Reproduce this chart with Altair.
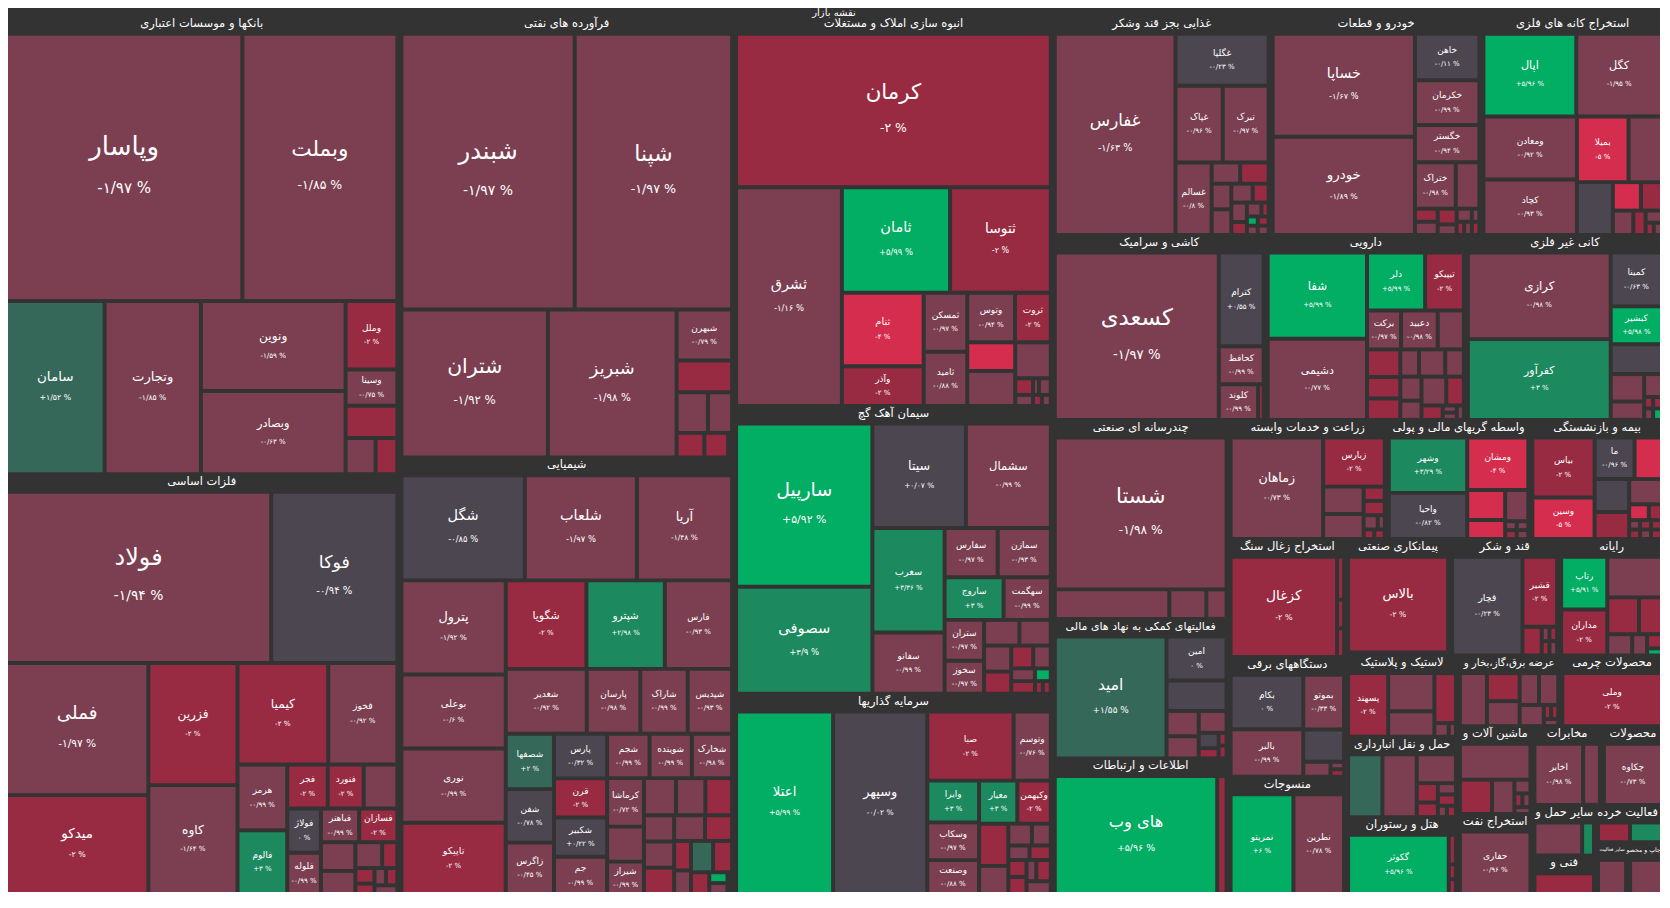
import math
import altair as alt
import pandas as pd

# ---------------- data ----------------
# each tile: (symbol, shown change %, closing-change estimate (colour), market value)
BANKS = [("وپاسار", -1.97, -1.2, 640), ("وبملت", -1.85, -1.1, 420), ("سامان", 1.52, 1.5, 173),
         ("وتجارت", -1.85, -1.2, 169), ("ونوین", -1.59, -1.0, 132), ("وبصادر", -0.63, -0.9, 122),
         ("وملل", -2, -2, 36), ("وسینا", -0.75, -0.8, 19), ("", None, -2, 17), ("", None, -1, 11),
         ("", None, -2, 8)]
METALS = [("فولاد", -1.94, -1.0, 458), ("فوکا", -0.94, 0, 218), ("فملی", -1.97, -1.2, 190),
          ("میدکو", -2, -2, 142), ("فزرین", -2, -2, 110), ("کاوه", -1.64, -1.0, 98),
          ("کیمیا", -2, -2, 93), ("فخوز", -0.92, -1.0, 71), ("هرمز", -0.99, -1.0, 33),
          ("فالوم", 3, 3, 32), ("فجر", -2, -2, 18), ("فنورد", -2, -2, 16), ("", None, -1, 15),
          ("فولاژ", 0, 0, 15), ("فلوله", -0.99, -1, 14), ("فباهنر", -0.99, -1, 13),
          ("فسازان", -2, -2, 13), ("", None, -1, 10), ("", None, -1, 8), ("", None, -1, 7),
          ("", None, -2, 4), ("", None, -2, 3), ("", None, -2, 2), ("", None, -1, 2),
          ("", None, -2, 2), ("", None, -1, 2)]
OIL = [("شبندر", -1.97, -1.2, 489), ("شپنا", -1.97, -1.2, 444), ("شتران", -1.92, -1.2, 222),
       ("شبریز", -1.98, -1.2, 195), ("شبهرن", -0.79, -1, 29), ("", None, -2, 18),
       ("", None, -1, 13), ("", None, -1, 10), ("", None, -2, 7), ("", None, -2, 6),
       ("", None, -4.5, 1)]
CHEM = [("شگل", -0.85, 0, 131), ("شلعاب", -1.97, -1.2, 119), ("آریا", -1.48, -1.0, 101),
        ("پترول", -1.92, -1.2, 99), ("بوعلی", -0.6, -1, 78), ("نوری", -0.99, -1, 78),
        ("تاپیکو", -2, -2, 75), ("شگویا", -2, -2, 72), ("شپترو", 2.98, 3, 70),
        ("فارس", -0.93, -1, 60), ("شغدیر", -0.92, -1, 53), ("پارسان", -0.98, -1, 35),
        ("شاراک", -0.99, -1, 31), ("شپدیس", -0.93, -1, 29), ("شصفها", 2, 1.5, 27),
        ("شفن", -0.78, 0, 26), ("زاگرس", -0.45, -1, 25), ("پارس", -0.32, 0, 24),
        ("قرن", -2, -2, 21), ("شکبیر", 0.22, 0, 21), ("جم", -0.99, -1, 20),
        ("شجم", -0.99, -1, 19), ("شوینده", -0.99, -1, 19), ("شخارک", -0.98, -1, 18),
        ("کرماشا", -0.72, -1, 18), ("", None, -1, 13), ("شیراز", -0.99, -1, 12),
        ("", None, -1, 12), ("", None, -1, 11), ("", None, -2, 10), ("", None, -1, 8),
        ("", None, -1, 8), ("", None, -2, 8), ("", None, -1, 8), ("", None, -2, 7),
        ("", None, -2, 5), ("", None, -1, 4), ("", None, 1.5, 7), ("", None, -2, 6),
        ("", None, -2, 4), ("", None, 6, 2), ("", None, -1, 2), ("", None, -2, 1)]
ANBOOH = [("کرمان", -2, -2, 490), ("ثشرق", -1.16, -1, 235), ("ثامان", 5.99, 6, 116),
          ("ثتوسا", -2, -2, 108), ("ثنام", -4, -4.5, 61), ("وآذر", -2, -2, 33),
          ("ثمسکن", -0.97, -1, 26), ("ثامید", -0.88, -1, 24), ("وتوس", -0.94, -1, 24),
          ("ثروت", -2, -2, 18), ("", None, -4.5, 14), ("", None, -1, 17), ("", None, -1, 13),
          ("", None, -2, 3), ("", None, -1, 2), ("", None, -1, 1), ("", None, -1, 2),
          ("", None, -2, 1), ("", None, -1, 1)]
SIMAN = [("سارپیل", 5.92, 6, 221), ("سصوفی", 3.9, 3, 145), ("سیتا", 0.07, 0, 97),
         ("سشمال", -0.99, -1, 88), ("سغرب", 3.36, 3, 75), ("سفانو", -0.99, -1, 44),
         ("سفارس", -0.97, -1, 26), ("سمازن", -0.93, -1, 26), ("ساروج", 3, 3, 25),
         ("سهگمت", -0.99, -1, 20), ("ستران", -0.97, -1, 16), ("سخوز", -0.97, -1, 13),
         ("", None, -1, 9), ("", None, -1, 8), ("", None, -1, 7), ("", None, -2, 6),
         ("", None, -2, 5), ("", None, -1, 4), ("", None, -1, 3), ("", None, -2, 3),
         ("", None, 6, 2), ("", None, -2, 1), ("", None, -2, 1)]
SARMAYE = [("اعتلا", 5.99, 6, 172), ("وسپهر", -0.02, 0, 167), ("صبا", -2, -2, 58),
           ("وتوسم", -0.76, -1, 25), ("وایرا", 3, 3, 21), ("وسکاب", -0.97, -1, 19),
           ("وصنعت", -0.88, -1, 17), ("معیار", 3, 3, 16), ("وکبهمن", -2, -2, 14),
           ("", None, -2, 12), ("", None, -1, 8), ("", None, -1, 5), ("", None, -1, 4),
           ("", None, -1, 3), ("", None, -2, 3), ("", None, -2, 3), ("", None, -2, 3),
           ("", None, -1, 2), ("", None, -2, 3), ("", None, -1, 3)]
GHAZA = [("غفارس", -1.63, -1, 241), ("غگلپا", -0.23, 0, 48), ("غپاک", -0.96, -1, 36),
         ("تبرک", -0.97, -1, 35), ("غسالم", -0.8, -1, 26), ("", None, -1, 6), ("", None, -2, 6),
         ("", None, -1, 5), ("", None, -1, 5), ("", None, -1, 4), ("", None, -2, 3),
         ("", None, -1, 3), ("", None, -2, 2), ("", None, -1, 2), ("", None, -2, 1),
         ("", None, 6, 1), ("", None, -1, 1), ("", None, -2, 1), ("", None, -1, 1)]
KHODRO = [("خساپا", -1.67, -1, 147), ("خودرو", -1.89, -1, 140), ("خاهن", -0.11, 0, 30),
          ("خکرمان", -0.99, -1, 29), ("خگستر", -0.94, -1, 24), ("ختراک", -0.98, -1, 19),
          ("", None, -1, 11), ("", None, -2, 3), ("", None, -1, 3), ("", None, -2, 3),
          ("", None, -1, 2), ("", None, -1, 2), ("", None, -1, 1), ("", None, -2, 1),
          ("", None, -1, 1), ("", None, -2, 1)]
KANE = [("اپال", 5.96, 6, 77), ("کگل", -1.95, -1, 71), ("ومعادن", -0.92, -1, 59),
        ("کچاد", -0.93, -1, 52), ("بمیلا", -5, -4.5, 34), ("", None, -1, 22), ("", None, 0, 19),
        ("", None, -4.5, 8), ("", None, -2, 6), ("", None, -1, 5), ("", None, -2, 3),
        ("", None, -1, 2), ("", None, -2, 1), ("", None, -1, 1)]
KASHI = [("کسعدی", -1.97, -1.2, 274), ("کترام", 0.55, 0, 42), ("کحافظ", -0.99, -1, 17),
         ("کلوند", -0.99, -1, 14), ("", None, -2, 2)]
DARU = [("شفا", 5.99, 6, 84), ("دشیمی", -0.77, -1, 79), ("دلر", 5.99, 6, 33),
        ("تیپیکو", -2, -2, 22), ("برکت", -0.97, -1, 13), ("دعبید", -0.98, -1, 14),
        ("", None, -1, 10), ("", None, -2, 9), ("", None, -2, 7), ("", None, -2, 7),
        ("", None, -1, 5), ("", None, -1, 7), ("", None, -1, 5), ("", None, -1, 5),
        ("", None, -1, 4), ("", None, -1, 7), ("", None, -2, 5), ("", None, -2, 3),
        ("", None, -1, 1), ("", None, -1, 1), ("", None, -1, 1)]
KANI = [("کرازی", -0.98, -1, 121), ("کفرآور", 3, 3, 113), ("کمینا", -0.63, 0, 27),
        ("کبشیر", 5.98, 6, 19), ("", None, 0, 15), ("", None, -1, 9), ("", None, -1, 6),
        ("", None, -1, 4), ("", None, -2, 1), ("", None, -2, 1), ("", None, -1, 1),
        ("", None, 6, 1)]
CHANDRESANE = [("شستا", -1.98, -1.2, 263), ("", None, -1, 34), ("", None, -1, 11),
               ("", None, -1, 6)]
KOMAKI = [("امید", 1.55, 1.5, 134), ("امین", 0, 0, 26), ("", None, 0, 18), ("", None, -1, 8),
          ("", None, -1, 7), ("", None, -1, 6), ("", None, 0, 3), ("", None, -2, 2),
          ("", None, -2, 1), ("", None, -2, 1)]
ETTELAAT = [("های وب", 5.96, 6, 191), ("", None, -2, 11)]
ZERAAT = [("زماهان", -0.73, -1, 93), ("زبارس", -2, -2, 30), ("", None, -1, 11),
          ("", None, -1, 10), ("", None, -2, 3), ("", None, -2, 3), ("", None, -1, 2),
          ("", None, -1, 1), ("", None, -2, 1), ("", None, -2, 1)]
VASETE = [("وشهر", 3.29, 3, 42), ("واحیا", -0.82, 0, 35), ("ومشان", -4, -4.5, 31),
          ("", None, -4.5, 11), ("", None, -4.5, 7), ("", None, -1, 7), ("", None, -1, 1),
          ("", None, -2, 1), ("", None, -1, 1), ("", None, -1, 1)]
BIME = [("بیاس", -2, -2, 36), ("وسین", -5, -4.5, 25), ("ما", -0.96, 0, 16),
        ("", None, -4.5, 11), ("", None, 0, 11), ("", None, -2, 9), ("", None, -1, 8),
        ("", None, -4.5, 3), ("", None, -2, 2), ("", None, -1, 1), ("", None, -2, 1),
        ("", None, -2, 1), ("", None, -1, 1), ("", None, -2, 1), ("", None, -2, 1)]
ZOGHAL = [("کزغال", -2, -2, 106), ("", None, -2, 3), ("", None, -2, 2), ("", None, -2, 2)]
DASTGAH = [("بکام", 0, 0, 39), ("بالبر", -0.99, -1, 34), ("بموتو", -0.33, -1, 22),
           ("", None, 0, 13), ("", None, -1, 4), ("", None, -1, 1), ("", None, -2, 1)]
MANSOOJAT = [("نمریتو", 6, 6, 62), ("نطرین", -0.78, -1, 50)]
PEYMANKARI = [("بالاس", -2, -2, 97), ("", None, -1, 3)]
GHAND = [("قچار", -0.23, 0, 63), ("قشیر", -2, -2, 22), ("", None, -2, 5), ("", None, -1, 1),
         ("", None, -2, 1), ("", None, -2, 1), ("", None, -1, 1)]
RAYANE = [("رتاپ", 5.91, 6, 23), ("مداران", -2, -2, 20), ("", None, -1, 21),
          ("", None, -2, 11), ("", None, -2, 8), ("", None, -1, 5), ("", None, -1, 3),
          ("", None, -2, 2), ("", None, 6, 1)]
LASTIK = [("پسهند", -2, -2, 26), ("", None, -1, 18), ("", None, -1, 12), ("", None, -2, 11),
          ("", None, -1, 2), ("", None, -1, 1)]
HAML = [("", None, 1.5, 21), ("", None, -1, 21), ("", None, -1, 11), ("", None, -2, 4),
        ("", None, -2, 3), ("", None, -1, 2), ("", None, -2, 2), ("", None, -1, 1),
        ("", None, -2, 1)]
HOTEL = [("گکوثر", 5.96, 6, 56), ("", None, -2, 2), ("", None, -2, 1), ("", None, -2, 1)]
ARZE = [("", None, -1, 14), ("", None, -2, 9), ("", None, -1, 8), ("", None, -1, 6),
        ("", None, -1, 6), ("", None, -1, 5), ("", None, -2, 1), ("", None, -2, 1),
        ("", None, -1, 1)]
CHARMI = [("وملی", -2, -2, 52)]
MASHIN = [("", None, -1, 23), ("", None, -2, 10), ("", None, -1, 7), ("", None, -1, 2),
          ("", None, -2, 1), ("", None, -1, 1), ("", None, -1, 1)]
NAFT = [("حفاری", -0.96, -1, 41)]
MOKHABERAT = [("اخابر", -0.98, -1, 29), ("", None, -1, 10)]
MAHSULAT = [("چکاوه", -0.73, -1, 31)]
SAYER_HAML = [("", None, -1, 16), ("", None, 3, 4)]
FANI = [("", None, -2, 9)]
KHORDE = [("", None, -2, 5), ("", None, 3, 5)]
SAYER = [("", None, -1, 1)]
CHAP = [("", None, -1, 1)]

# sector: (name, sector market value, tiles)
SECTORS = [
    ("بانکها و موسسات اعتباری", 1854, BANKS),
    ("فلزات اساسی", 1699, METALS),
    ("فرآورده های نفتی", 1512, OIL),
    ("شیمیایی", 1495, CHEM),
    ("انبوه سازی املاک و مستغلات", 1272, ANBOOH),
    ("سیمان آهک گچ", 939, SIMAN),
    ("سرمایه گذاریها", 653, SARMAYE),
    ("غذایی بجز قند وشکر", 488, GHAZA),
    ("خودرو و قطعات", 472, KHODRO),
    ("استخراج کانه های فلزی", 409, KANE),
    ("کاشی و سرامیک", 403, KASHI),
    ("دارویی", 379, DARU),
    ("کانی غیر فلزی", 375, KANI),
    ("چندرسانه ای صنعتی", 358, CHANDRESANE),
    ("فعالیتهای کمکی به نهاد های مالی", 251, KOMAKI),
    ("اطلاعات و ارتباطات", 244, ETTELAAT),
    ("زراعت و خدمات وابسته", 193, ZERAAT),
    ("واسطه گریهای مالی و پولی", 175, VASETE),
    ("بیمه و بازنشستگی", 163, BIME),
    ("استخراج زغال سنگ", 142, ZOGHAL),
    ("دستگاههای برقی", 144, DASTGAH),
    ("منسوجات", 141, MANSOOJAT),
    ("پیمانکاری صنعتی", 124, PEYMANKARI),
    ("قند و شکر", 130, GHAND),
    ("رایانه", 125, RAYANE),
    ("لاستیک و پلاستیک", 93, LASTIK),
    ("حمل و نقل انبارداری", 92, HAML),
    ("هتل و رستوران", 88, HOTEL),
    ("عرضه برق،گاز،بخار و", 74, ARZE),
    ("محصولات چرمی", 75, CHARMI),
    ("ماشین آلات و", 67, MASHIN),
    ("استخراج نفت", 61, NAFT),
    ("مخابرات", 56, MOKHABERAT),
    ("محصولات", 50, MAHSULAT),
    ("سایر حمل و", 33, SAYER_HAML),
    ("فنی و", 25, FANI),
    ("فعالیت خرده", 26, KHORDE),
    ("سایر فعالیت", 17, SAYER),
    ("چاپ و محصو", 19, CHAP),
]
TITLE = "نقشه بازار"

# colour classes of the closing change
COLOR_BREAKS = [-3, -1.5, -0.5, 0.5, 2.25, 4.5]
COLOR_RANGE = ["#d52d4d", "#982b42", "#7b3f51", "#4c4651", "#356858", "#1c8a5e", "#02ad64"]

# ---------------- layout (squarified treemap in a 1659 x 887 layout space) ----------------
VX0, VY0, VX1, VY1 = 6.0, 18.0, 1665.0, 905.0     # layout space
W, H = 1652, 884                                  # plot size on the page
TOP = 14                                          # pixel row where the sectors begin
GAP_OUT, GAP_IN, HEADER = 8, 4, 14
KX = W / (VX1 - VX0)
KY = (H - TOP) / (VY1 - VY0)


def squarify(values, x0, y0, x1, y1):
    n = len(values)
    out = [None] * n
    total = float(sum(values))
    i0 = i1 = 0
    while i0 < n:
        dx, dy = max(x1 - x0, 1e-6), max(y1 - y0, 1e-6)
        s = values[i1]
        i1 += 1
        mn = mx = s
        alpha = max(dy / dx, dx / dy) / total
        beta = s * s * alpha
        best = max(mx / beta, beta / mn)
        while i1 < n:
            v = values[i1]
            s += v
            mn, mx = min(mn, v), max(mx, v)
            beta = s * s * alpha
            r = max(mx / beta, beta / mn)
            if r > best:
                s -= v
                break
            best = r
            i1 += 1
        if dx < dy:
            ny = y0 + dy * s / total
            xx = x0
            for i in range(i0, i1):
                w = (x1 - x0) * values[i] / s
                out[i] = (xx, y0, xx + w, ny)
                xx += w
            y0 = ny
        else:
            nx = x0 + dx * s / total
            yy = y0
            for i in range(i0, i1):
                h = (y1 - y0) * values[i] / s
                out[i] = (x0, yy, nx, yy + h)
                yy += h
            x0 = nx
        total -= s
        i0 = i1
    return out


FA = str.maketrans("0123456789", "۰۱۲۳۴۵۶۷۸۹")


def fmt(p):
    if p is None:
        return ""
    s = f"{abs(p):.2f}".rstrip("0").rstrip(".")
    sign = "-" if p < 0 else ("+" if p > 0 else "")
    return sign + s.replace(".", "/").translate(FA) + " %"


po, pi = GAP_OUT / 2, GAP_IN / 2
sec_rects = squarify([s[1] for s in SECTORS], VX0 - po, VY0 - po, VX1 + po, VY1 + po)
tiles, heads = [], []
for (sname, sval, items), (a, b, c, d) in zip(SECTORS, sec_rects):
    sx0, sy0, sx1, sy1 = a + po, b + po, c - po, d - po
    sw = (sx1 - sx0) * KX
    hfs = max(4.5, min(11.5, (sw + 3) / (0.5 * len(sname))))
    half = 0.25 * hfs * len(sname) / KX
    cx = min((sx0 + sx1) / 2, VX1 - half - 1)
    heads.append({"t": sname, "cx": cx, "cy": sy0 + 2, "hfs": hfs})
    rr = squarify([it[3] for it in items], sx0 - pi, sy0 + HEADER - pi, sx1 + pi, sy1 + pi)
    for (nm, pct, close, val), (e, f, g, h) in zip(items, rr):
        x0, y0, x1, y1 = e + pi, f + pi, g - pi, h - pi
        if x1 - x0 < 0.6 or y1 - y0 < 0.6:
            continue
        w, hh = (x1 - x0) * KX, (y1 - y0) * KY
        fs = min(min(w, hh) / 7.0, 26.0, (w - 4) / (0.5 * max(len(nm), 2)))
        fs = max(fs, 9.0)
        pfs = max(min(0.58 * fs, 17.0), 7.0)
        cx, cy = (x0 + x1) / 2, (y0 + y1) / 2
        off = 0.8 * fs / KY
        tiles.append({"name": nm, "pct": fmt(pct), "close": close,
                      "x0": x0, "x1": x1, "y0": y0, "y1": y1,
                      "cx": cx, "ny": cy - off, "py": cy + off,
                      "fs": fs, "pfs": pfs, "lab": bool(nm) and w >= 16 and hh >= 16})

df = pd.DataFrame(tiles)
lab = df[df["lab"]]
hd = pd.DataFrame(heads)

xs = alt.Scale(domain=[VX0, VX1], range=[0, W], nice=False, zero=False)
ys = alt.Scale(domain=[VY0, VY1], range=[TOP, H], nice=False, zero=False)
FONT = "DejaVu Sans"

rects = alt.Chart(df).mark_rect(strokeWidth=0).encode(
    x=alt.X("x0:Q", scale=xs, axis=None), x2="x1:Q",
    y=alt.Y("y0:Q", scale=ys, axis=None), y2="y1:Q",
    color=alt.Color("close:Q", scale=alt.Scale(type="threshold", domain=COLOR_BREAKS,
                                               range=COLOR_RANGE), legend=None),
)
names = alt.Chart(lab).mark_text(font=FONT, color="white", baseline="middle", align="center").encode(
    x=alt.X("cx:Q", scale=xs, axis=None), y=alt.Y("ny:Q", scale=ys, axis=None),
    text="name:N", size=alt.Size("fs:Q", scale=None),
)
pcts = alt.Chart(lab).mark_text(font=FONT, color="white", baseline="middle", align="center").encode(
    x=alt.X("cx:Q", scale=xs, axis=None), y=alt.Y("py:Q", scale=ys, axis=None),
    text="pct:N", size=alt.Size("pfs:Q", scale=None),
)
headers = alt.Chart(hd).mark_text(font=FONT, color="white", baseline="middle",
                                  align="center").encode(
    x=alt.X("cx:Q", scale=xs, axis=None), y=alt.Y("cy:Q", scale=ys, axis=None), text="t:N",
    size=alt.Size("hfs:Q", scale=None),
)
title = alt.Chart(pd.DataFrame({"t": [TITLE]})).mark_text(
    font=FONT, color="white", baseline="middle", align="center", fontSize=10).encode(
    x=alt.value(W / 2), y=alt.value(5), text="t:N")

chart = alt.layer(rects, names, pcts, headers, title).properties(
    width=W, height=H, background="#333333", padding=0,
    autosize=alt.AutoSizeParams(type="none"),
).configure_view(stroke=None)

chart.save("out.html", embed_options={"renderer": "svg", "actions": False})
